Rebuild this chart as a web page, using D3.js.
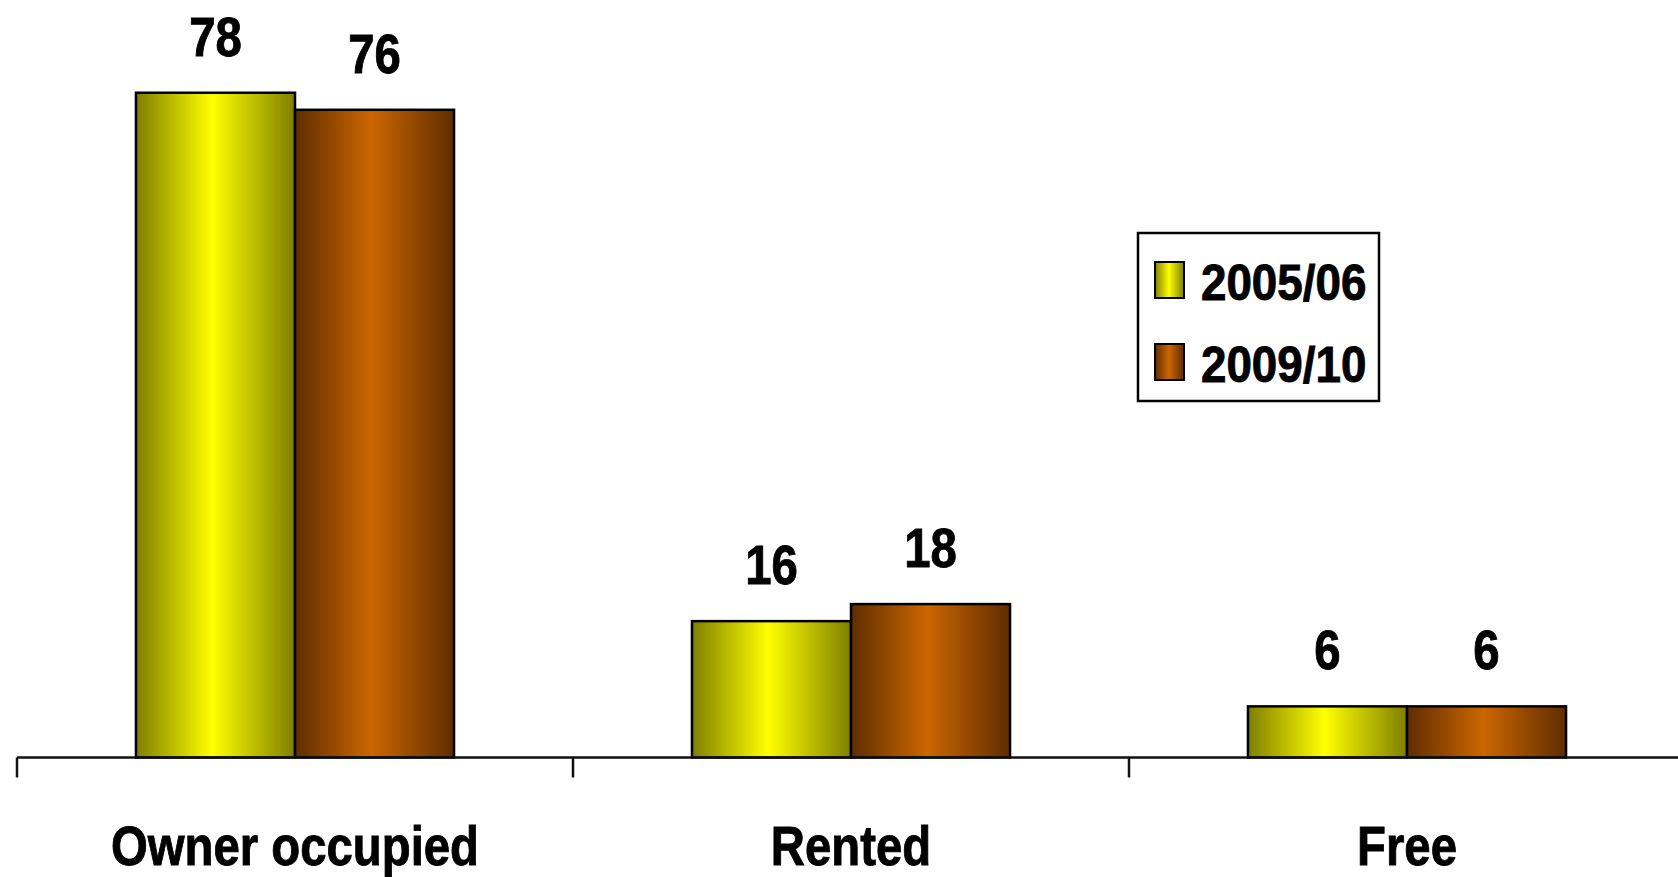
<!DOCTYPE html>
<html>
<head>
<meta charset="utf-8">
<script src="https://cdn.jsdelivr.net/npm/d3@7"></script>
<style>
  html, body { margin: 0; padding: 0; background: #ffffff; }
  svg { display: block; }
  text { font-family: "Liberation Sans", Arial, sans-serif; font-weight: bold; fill: #000; stroke: #000; stroke-width: 0.9px; }
</style>
</head>
<body>
<svg id="chart" width="1678" height="877"></svg>
<script>
// Housing tenure, percent of households
const categories = ["Owner occupied", "Rented", "Free"];
const seriesNames = ["2005/06", "2009/10"];
const values2005 = [78, 16, 6];
const values2009 = [76, 18, 6];
const seriesValues = [values2005, values2009];

const W = 1678, H = 877;
const NARROW = 0.845; // condensed sans: regular face squeezed horizontally
const svg = d3.select("#chart");

// Horizontal shaded fills, dark at the edges and bright in the middle
const fills = [
  { id: "g2005", edge: "#7f7f00", mid: "#ffff00" },
  { id: "g2009", edge: "#5f2d00", mid: "#cc6600" }
];
const defs = svg.append("defs");
fills.forEach(f => {
  const g = defs.append("linearGradient").attr("id", f.id)
    .attr("x1", "0%").attr("x2", "100%").attr("y1", "0%").attr("y2", "0%");
  g.append("stop").attr("offset", "0%").attr("stop-color", f.edge);
  g.append("stop").attr("offset", "48%").attr("stop-color", f.mid);
  g.append("stop").attr("offset", "100%").attr("stop-color", f.edge);
});

const baseY = 757.5;
const x0 = d3.scaleBand().domain(categories).range([17, 1685]).paddingInner(0).paddingOuter(0);
const x1 = d3.scaleBand().domain(seriesNames).range([0, x0.bandwidth()]).paddingInner(0).paddingOuter(0.748);
const y = d3.scaleLinear().domain([0, 80]).range([baseY, 75.7]);

const groups = svg.append("g").selectAll("g")
  .data(categories)
  .join("g")
  .attr("transform", d => `translate(${x0(d)},0)`);

const barData = (c, i) => seriesNames.map((s, k) => ({ series: s, k, value: seriesValues[k][i] }));

groups.selectAll("rect")
  .data(barData)
  .join("rect")
  .attr("x", d => x1(d.series))
  .attr("y", d => y(d.value))
  .attr("width", x1.bandwidth())
  .attr("height", d => baseY - y(d.value))
  .attr("fill", d => `url(#${fills[d.k].id})`)
  .attr("stroke", "#000")
  .attr("stroke-width", 2.5);

groups.selectAll("text.val")
  .data(barData)
  .join("text")
  .attr("class", "val")
  .attr("transform", d => `translate(${x1(d.series) + x1.bandwidth() / 2},${y(d.value) - 37}) scale(${NARROW},1)`)
  .attr("text-anchor", "middle")
  .attr("font-size", 56)
  .text(d => d.value);

// Category axis along the baseline, ticks between groups
const xAxis = d3.axisBottom(x0).tickSize(0).tickFormat("");
const axisG = svg.append("g").attr("transform", `translate(0,${baseY})`).call(xAxis);
axisG.select(".domain").remove();
axisG.append("line")
  .attr("x1", 17).attr("x2", W).attr("y1", 0).attr("y2", 0)
  .attr("stroke", "#111").attr("stroke-width", 2.5);
const boundaries = categories.map(c => x0(c)).concat([x0.range()[1]]);
axisG.selectAll("line.tk")
  .data(boundaries)
  .join("line")
  .attr("class", "tk")
  .attr("x1", d => d).attr("x2", d => d)
  .attr("y1", 0).attr("y2", 20)
  .attr("stroke", "#111").attr("stroke-width", 2.5);

svg.append("g").selectAll("text")
  .data(categories)
  .join("text")
  .attr("transform", d => `translate(${x0(d) + x0.bandwidth() / 2},865) scale(${NARROW},1)`)
  .attr("text-anchor", "middle")
  .attr("font-size", 56)
  .text(d => d);

// Legend
const legend = svg.append("g").attr("transform", "translate(1138,233)");
legend.append("rect")
  .attr("x", 0).attr("y", 0).attr("width", 241).attr("height", 168)
  .attr("fill", "#fff").attr("stroke", "#000").attr("stroke-width", 2.5);
const items = legend.selectAll("g.item")
  .data(seriesNames)
  .join("g")
  .attr("class", "item")
  .attr("transform", (d, i) => `translate(0,${i * 82})`);
items.append("rect")
  .attr("x", 17).attr("y", 29).attr("width", 29).attr("height", 36)
  .attr("fill", (d, i) => `url(#${fills[i].id})`)
  .attr("stroke", "#000").attr("stroke-width", 2);
items.append("text")
  .attr("transform", `translate(63,67) scale(0.915,1)`)
  .attr("font-size", 50)
  .text(d => d);
</script>
</body>
</html>
